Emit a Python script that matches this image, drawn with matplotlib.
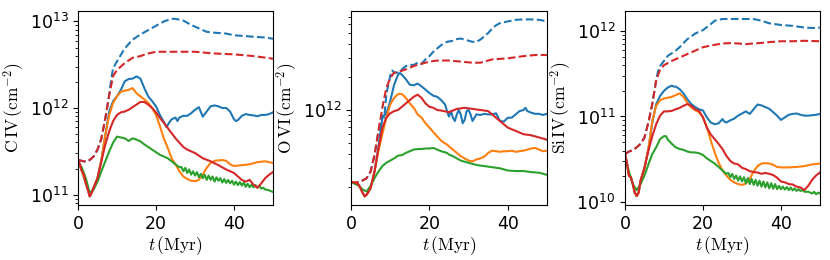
import matplotlib
matplotlib.use("Agg")
import matplotlib.pyplot as plt
import numpy as np
from matplotlib.ticker import NullFormatter

# ---------------- data (log10 of column density, cm^-2) ----------------
# Panel 1: C IV
civ_rd_t = [0, 2, 3, 4, 5, 6, 7, 8, 9, 10, 12, 14, 16, 18, 20, 22, 25, 30, 35, 40, 45, 50]
civ_rd = [11.40, 11.38, 11.40, 11.44, 11.52, 11.65, 11.88, 12.15, 12.37, 12.44, 12.52, 12.58,
          12.60, 12.63, 12.65, 12.65, 12.65, 12.65, 12.63, 12.62, 12.60, 12.57]
civ_bd_t = [0, 2, 3, 4, 5, 6, 7, 8, 8.5, 9, 10, 12, 14, 16, 18, 20, 22, 24, 25, 27, 29, 31, 33,
            35, 38, 40, 43, 46, 48, 50]
civ_bd = [11.40, 11.38, 11.40, 11.44, 11.52, 11.65, 11.88, 12.15, 12.33, 12.46, 12.54, 12.69,
          12.79, 12.85, 12.90, 12.95, 13.00, 13.03, 13.03, 13.01, 12.96, 12.92, 12.88, 12.87,
          12.86, 12.84, 12.83, 12.82, 12.815, 12.80]
civ_b_t = [0, 1, 2, 2.5, 3, 3.5, 4, 5, 6, 7, 8, 9, 10, 11, 12, 13, 14, 15, 16, 17, 18, 19, 20,
           21, 22, 22.7, 23.5, 24, 25, 25.5, 26, 27, 28, 29, 30, 31, 32, 33, 34, 35, 36, 37, 38,
           39, 40, 40.5, 41, 42, 43, 44, 45, 46, 47, 48, 49, 50]
civ_b = [11.40, 11.27, 11.13, 11.06, 10.98, 11.02, 11.08, 11.19, 11.40, 11.68, 11.96, 12.08,
         12.135, 12.21, 12.31, 12.335, 12.34, 12.365, 12.34, 12.23, 12.135, 12.08, 12.02, 11.92,
         11.84, 11.78, 11.84, 11.87, 11.89, 11.85, 11.89, 11.91, 11.91, 11.94, 11.98, 12.01,
         11.90, 11.96, 12.02, 12.03, 12.02, 12.00, 12.00, 11.96, 11.87, 11.85, 11.86, 11.91,
         11.93, 11.92, 11.915, 11.905, 11.92, 11.92, 11.93, 11.95]
civ_o_t = [0, 1, 2, 2.5, 3, 3.5, 4, 5, 6, 7, 8, 9, 10, 11, 12, 13, 14, 15, 16, 17, 18, 19, 20,
           21, 22, 23, 24, 25, 26, 27, 28, 29, 30, 31, 32, 33, 34, 35, 37, 38, 39, 40, 42, 44,
           46, 48, 50]
civ_o = [11.40, 11.27, 11.13, 11.06, 10.98, 11.02, 11.08, 11.19, 11.40, 11.69, 11.92, 12.06,
         12.135, 12.19, 12.20, 12.21, 12.23, 12.17, 12.135, 12.10, 12.06, 12.00, 11.92, 11.79,
         11.65, 11.54, 11.42, 11.35, 11.27, 11.21, 11.18, 11.16, 11.155, 11.17, 11.23, 11.31,
         11.365, 11.39, 11.40, 11.39, 11.35, 11.33, 11.34, 11.35, 11.375, 11.385, 11.365]
civ_r_t = [0, 0.5, 1, 1.5, 2, 2.5, 3, 3.5, 4, 5, 6, 7, 8, 9, 10, 11, 12, 13, 14, 15, 16, 17,
           18, 19, 20, 21, 22, 23, 24, 25, 26, 27, 28, 30, 32, 34, 36, 38, 40, 42, 43, 44, 45,
           46, 47, 48, 49, 50]
civ_r = [11.40, 11.35, 11.27, 11.23, 11.13, 11.06, 10.98, 11.02, 11.08, 11.19, 11.385, 11.58,
         11.73, 11.85, 11.92, 11.95, 11.96, 11.98, 12.01, 12.04, 12.07, 12.07, 12.04, 12.00,
         11.95, 11.885, 11.83, 11.77, 11.71, 11.65, 11.60, 11.55, 11.52, 11.48, 11.42, 11.385,
         11.34, 11.29, 11.25, 11.17, 11.15, 11.17, 11.115, 11.08, 11.13, 11.19, 11.23, 11.26]
civ_g_t = [0, 1, 2, 3, 4, 5, 6, 7, 8, 9, 10, 11, 12, 13, 14, 15, 16, 17, 18, 19, 20, 21, 22,
           23, 24, 25, 26, 26.5, 27, 27.5, 28, 28.5, 29, 29.5, 30, 30.5, 31, 31.5, 32, 32.5, 33,
           33.5, 34, 34.5, 35, 35.5, 36, 36.5, 37, 37.5, 38, 38.5, 39, 39.5, 40, 40.5, 41, 41.5,
           42, 42.5, 43, 43.5, 44, 44.5, 45, 45.5, 46, 46.5, 47, 47.5, 48, 49, 50]
civ_g = [11.385, 11.31, 11.19, 11.02, 11.06, 11.15, 11.27, 11.385, 11.50, 11.60, 11.67, 11.66,
         11.65, 11.62, 11.65, 11.635, 11.615, 11.58, 11.55, 11.52, 11.49, 11.46, 11.44, 11.42,
         11.385, 11.35, 11.315, 11.32, 11.27, 11.31, 11.25, 11.29, 11.23, 11.27, 11.22, 11.26,
         11.20, 11.24, 11.19, 11.23, 11.17, 11.22, 11.17, 11.21, 11.15, 11.20, 11.16, 11.19,
         11.14, 11.18, 11.135, 11.17, 11.13, 11.16, 11.115, 11.15, 11.11, 11.145, 11.105, 11.14,
         11.09, 11.125, 11.085, 11.115, 11.085, 11.11, 11.08, 11.10, 11.07, 11.08, 11.06, 11.05,
         11.03]

# Panel 2: O VI
ovi_rd_t = [0, 1, 2, 3, 4, 5, 6, 7, 8, 9, 10, 11, 12, 14, 16, 18, 20, 22, 25, 28, 31, 33, 36,
            40, 44, 47, 50]
ovi_rd = [11.345, 11.34, 11.345, 11.36, 11.38, 11.44, 11.59, 11.81, 12.02, 12.20, 12.29, 12.34,
          12.345, 12.37, 12.40, 12.42, 12.44, 12.45, 12.45, 12.44, 12.43, 12.43, 12.46, 12.47,
          12.49, 12.50, 12.50]
ovi_bd_t = [0, 1, 2, 3, 4, 5, 6, 7, 7.5, 8, 8.5, 9, 10, 10.5, 11, 12, 13, 14, 15, 16, 17, 18,
            19, 20, 21, 22, 23, 24.5, 26, 27, 28, 29, 30, 31, 32, 33, 34, 35, 36, 37, 38, 40,
            42, 44, 46, 48, 50]
ovi_bd = [11.345, 11.34, 11.345, 11.36, 11.38, 11.44, 11.59, 11.80, 11.90, 11.95, 11.93, 12.14,
          12.31, 12.36, 12.34, 12.34, 12.37, 12.40, 12.41, 12.41, 12.43, 12.42, 12.46, 12.49,
          12.53, 12.56, 12.59, 12.62, 12.63, 12.645, 12.65, 12.64, 12.63, 12.62, 12.62, 12.64,
          12.67, 12.70, 12.74, 12.77, 12.79, 12.806, 12.82, 12.824, 12.824, 12.82, 12.806]
ovi_b_t = [0, 1, 2, 3, 3.5, 4, 5, 6, 7, 8, 8.5, 9, 10, 11, 12, 12.5, 13, 14, 15, 16, 17, 18,
           19, 20, 21, 22, 23, 24, 24.5, 25, 25.5, 26, 26.5, 27, 27.5, 28, 28.5, 29, 29.5, 30,
           30.5, 31, 32, 33, 34, 35, 36, 37, 38, 39, 40, 41, 42, 43, 44, 44.5, 45, 46, 47, 48,
           49, 50]
ovi_b = [11.345, 11.33, 11.32, 11.245, 11.215, 11.23, 11.29, 11.44, 11.66, 11.93, 11.955, 11.96,
         12.08, 12.23, 12.32, 12.336, 12.32, 12.28, 12.23, 12.225, 12.24, 12.215, 12.185, 12.155,
         12.13, 12.12, 12.09, 12.05, 11.99, 11.94, 11.99, 11.93, 11.90, 11.96, 12.00, 11.96,
         11.88, 11.91, 11.99, 12.00, 11.96, 11.90, 11.96, 11.955, 11.965, 11.96, 11.96, 11.97,
         11.90, 11.895, 11.93, 11.93, 11.96, 11.99, 12.00, 12.02, 11.99, 11.975, 11.965, 11.965,
         11.955, 11.965]
ovi_r_t = [0, 1, 2, 3, 3.5, 4, 5, 6, 7, 8, 9, 10, 11, 12, 13, 14, 15, 16, 17, 18, 19, 20, 21,
           22, 23, 25, 27, 29, 31, 33, 35, 36, 37, 38, 39, 40, 42, 44, 46, 48, 50]
ovi_r = [11.345, 11.34, 11.32, 11.245, 11.215, 11.23, 11.29, 11.44, 11.65, 11.84, 11.93, 11.97,
         11.99, 12.00, 12.03, 12.06, 12.09, 12.12, 12.14, 12.11, 12.06, 12.03, 12.02, 12.00,
         11.995, 11.98, 12.01, 12.02, 12.01, 12.00, 11.99, 11.96, 11.93, 11.90, 11.87, 11.84,
         11.81, 11.78, 11.77, 11.75, 11.73]
ovi_o_t = [0, 1, 2, 3, 3.5, 4, 5, 6, 7, 8, 9, 10, 11, 12, 13, 14, 15, 16, 17, 18, 19, 20, 21,
           22, 23, 24.5, 25, 26, 27, 28, 29, 30, 31, 32, 33, 34, 35, 36, 37, 38, 39, 40, 41, 42,
           43, 44, 45, 46, 47, 48, 49, 50]
ovi_o = [11.345, 11.34, 11.32, 11.245, 11.215, 11.23, 11.29, 11.44, 11.63, 11.78, 11.93, 12.05,
         12.11, 12.145, 12.145, 12.11, 12.06, 12.02, 11.96, 11.93, 11.88, 11.84, 11.80, 11.76,
         11.72, 11.685, 11.67, 11.64, 11.61, 11.58, 11.56, 11.54, 11.533, 11.55, 11.56, 11.575,
         11.61, 11.63, 11.625, 11.62, 11.625, 11.625, 11.63, 11.62, 11.625, 11.63, 11.64, 11.65,
         11.655, 11.64, 11.625, 11.63]
ovi_g_t = [0, 1, 2, 3, 4, 5, 6, 7, 8, 9, 10, 11, 12, 13, 14, 15, 16, 17, 18, 19, 20, 21, 22,
           23, 24.5, 25, 26, 27, 28, 29, 30, 31, 32, 34, 36, 38, 40, 42, 44, 46, 48, 50]
ovi_g = [11.345, 11.33, 11.31, 11.275, 11.26, 11.31, 11.38, 11.44, 11.49, 11.52, 11.54, 11.56,
         11.585, 11.59, 11.61, 11.625, 11.64, 11.645, 11.645, 11.65, 11.65, 11.655, 11.64, 11.625,
         11.61, 11.595, 11.58, 11.56, 11.54, 11.53, 11.52, 11.51, 11.50, 11.49, 11.48, 11.47,
         11.45, 11.445, 11.445, 11.435, 11.43, 11.41]

# Panel 3: Si IV
siiv_rd_t = [0, 1, 2, 3, 4, 5, 6, 7, 8, 9, 10, 12, 14, 16, 18, 20, 22, 24, 25, 27, 29, 31, 33,
             35, 37, 40, 43, 46, 50]
siiv_rd = [10.56, 10.59, 10.605, 10.64, 10.68, 10.755, 10.93, 11.145, 11.42, 11.55, 11.60, 11.65,
           11.69, 11.73, 11.77, 11.81, 11.83, 11.846, 11.854, 11.858, 11.854, 11.846, 11.854,
           11.86, 11.87, 11.88, 11.88, 11.885, 11.88]
siiv_bd_t = [0, 1, 2, 3, 4, 5, 6, 7, 8, 8.5, 9, 10, 11, 12, 13, 14, 16, 18, 20, 22, 23, 24, 25,
             28, 31, 33, 35, 37, 40, 43, 46, 48, 50]
siiv_bd = [10.56, 10.59, 10.605, 10.64, 10.68, 10.755, 10.93, 11.145, 11.43, 11.53, 11.59, 11.65,
           11.71, 11.74, 11.77, 11.81, 11.905, 11.97, 12.01, 12.08, 12.12, 12.13, 12.14, 12.14,
           12.14, 12.14, 12.12, 12.09, 12.07, 12.06, 12.04, 12.035, 12.04]
siiv_b_t = [0, 0.5, 1, 1.5, 2, 2.5, 3, 3.5, 4, 5, 6, 7, 8, 9, 10, 11, 12, 12.5, 13, 14, 15, 16,
            17, 18, 19, 20, 21, 22, 23, 24, 25, 25.5, 26, 27, 28, 29, 30, 31, 32, 33, 34, 35, 36,
            37, 38, 39, 40, 41, 42, 43, 44, 45, 46, 47, 48, 49, 50]
siiv_b = [10.56, 10.46, 10.31, 10.29, 10.21, 10.11, 10.07, 10.11, 10.25, 10.40, 10.62, 10.93,
          11.145, 11.24, 11.30, 11.34, 11.36, 11.35, 11.35, 11.32, 11.27, 11.20, 11.145, 11.11,
          11.085, 11.07, 10.99, 10.93, 10.91, 10.92, 10.97, 10.94, 10.93, 10.955, 10.975, 11.01,
          11.035, 11.06, 11.03, 11.085, 11.14, 11.13, 11.11, 11.09, 11.05, 11.01, 10.96, 10.99,
          11.02, 11.03, 11.035, 11.02, 11.01, 11.01, 11.015, 11.02, 11.03]
siiv_r_t = [0, 0.5, 1, 1.5, 2, 2.5, 3, 3.5, 4, 5, 6, 7, 8, 9, 10, 11, 12, 13, 14, 15, 16, 17,
            18, 19, 20, 21, 22, 23, 24, 25, 26, 27, 28, 29, 30, 31, 32, 33, 34, 35, 36, 37, 38,
            39, 40, 41, 42, 43, 44, 45, 46, 47, 48, 49, 50]
siiv_r = [10.56, 10.46, 10.31, 10.29, 10.21, 10.11, 10.07, 10.11, 10.25, 10.40, 10.60, 10.77,
          10.91, 11.01, 11.06, 11.06, 11.066, 11.085, 11.10, 11.125, 11.145, 11.125, 11.085,
          11.066, 10.99, 10.87, 10.79, 10.735, 10.68, 10.62, 10.54, 10.48, 10.45, 10.44, 10.40,
          10.385, 10.36, 10.35, 10.345, 10.33, 10.34, 10.33, 10.315, 10.285, 10.24, 10.23, 10.21,
          10.205, 10.18, 10.17, 10.14, 10.19, 10.26, 10.31, 10.345]
siiv_o_t = [0, 0.5, 1, 1.5, 2, 2.5, 3, 3.5, 4, 5, 6, 7, 8, 9, 10, 11, 12, 13, 14, 15, 16, 17,
            18, 19, 20, 21, 22, 23, 24, 25, 26, 27, 28, 29, 30, 31, 32, 33, 34, 35, 36, 37, 38,
            39, 40, 42, 44, 46, 48, 50]
siiv_o = [10.56, 10.46, 10.31, 10.29, 10.21, 10.11, 10.07, 10.11, 10.25, 10.40, 10.62, 10.95,
          11.125, 11.19, 11.21, 11.22, 11.23, 11.25, 11.27, 11.23, 11.16, 11.105, 11.074, 11.05,
          10.99, 10.87, 10.72, 10.58, 10.46, 10.37, 10.31, 10.26, 10.23, 10.21, 10.20, 10.215,
          10.27, 10.36, 10.42, 10.45, 10.455, 10.45, 10.435, 10.41, 10.405, 10.405, 10.41, 10.42,
          10.44, 10.45]
siiv_g_t = [0, 1, 2, 3, 4, 5, 6, 7, 8, 9, 10, 10.5, 11, 12, 13, 14, 15, 16, 17, 18, 19, 20, 21,
            22, 23, 24, 25, 26, 26.5, 27, 27.5, 28, 28.5, 29, 29.5, 30, 30.5, 31, 31.5, 32, 32.5,
            33, 33.5, 34, 34.5, 35, 35.5, 36, 36.5, 37, 37.5, 38, 38.5, 39, 39.5, 40, 40.5, 41,
            41.5, 42, 42.5, 43, 43.5, 44, 44.5, 45, 45.5, 46, 47, 48, 48.5, 49, 49.5, 50]
siiv_g = [10.52, 10.36, 10.21, 10.14, 10.21, 10.31, 10.44, 10.56, 10.64, 10.735, 10.77, 10.77,
          10.73, 10.68, 10.64, 10.62, 10.61, 10.59, 10.58, 10.58, 10.57, 10.55, 10.51, 10.48,
          10.45, 10.41, 10.37, 10.33, 10.34, 10.29, 10.33, 10.27, 10.31, 10.25, 10.30, 10.24,
          10.29, 10.22, 10.28, 10.21, 10.27, 10.20, 10.26, 10.19, 10.25, 10.18, 10.24, 10.17,
          10.23, 10.16, 10.22, 10.155, 10.21, 10.15, 10.19, 10.15, 10.18, 10.145, 10.175, 10.14,
          10.17, 10.135, 10.16, 10.13, 10.15, 10.13, 10.14, 10.12, 10.12, 10.10, 10.12, 10.09,
          10.11, 10.10]

ion_labels = [r"$\mathrm{C\,IV}\,(\mathrm{cm^{-2}})$",
              r"$\mathrm{O\,VI}\,(\mathrm{cm^{-2}})$",
              r"$\mathrm{Si\,IV}\,(\mathrm{cm^{-2}})$"]
xlabel = r"$t\,(\mathrm{Myr})$"
xticks = [0, 20, 40]

panels = [
    [(civ_bd_t, civ_bd, "C0", "--"), (civ_rd_t, civ_rd, "C3", "--"),
     (civ_b_t, civ_b, "C0", "-"), (civ_o_t, civ_o, "C1", "-"),
     (civ_g_t, civ_g, "C2", "-"), (civ_r_t, civ_r, "C3", "-")],
    [(ovi_bd_t, ovi_bd, "C0", "--"), (ovi_rd_t, ovi_rd, "C3", "--"),
     (ovi_b_t, ovi_b, "C0", "-"), (ovi_o_t, ovi_o, "C1", "-"),
     (ovi_g_t, ovi_g, "C2", "-"), (ovi_r_t, ovi_r, "C3", "-")],
    [(siiv_bd_t, siiv_bd, "C0", "--"), (siiv_rd_t, siiv_rd, "C3", "--"),
     (siiv_b_t, siiv_b, "C0", "-"), (siiv_o_t, siiv_o, "C1", "-"),
     (siiv_g_t, siiv_g, "C2", "-"), (siiv_r_t, siiv_r, "C3", "-")],
]
ylims_log = [(10.880, 13.124), (11.136, 12.903), (9.965, 12.237)]

fig = plt.figure(figsize=(8.3, 2.6), dpi=100)
lefts = [0.0940, 0.4229, 0.7530]
widths = [0.2349, 0.2361, 0.2349]
for i in range(3):
    ax = fig.add_axes([lefts[i], 0.2115, widths[i], 0.7473])
    for t, v, c, ls in panels[i]:
        ax.plot(t, 10 ** np.asarray(v), color=c, ls=ls, lw=1.5)
    ax.set_yscale("log")
    ax.set_xlim(0, 50)
    ax.set_ylim(10 ** ylims_log[i][0], 10 ** ylims_log[i][1])
    ax.set_xticks(xticks)
    ax.yaxis.set_minor_formatter(NullFormatter())
    ax.tick_params(labelsize=12.5)
    ax.set_ylabel(ion_labels[i], fontsize=12.5, math_fontfamily="cm", labelpad=2)
    ax.set_xlabel(xlabel, fontsize=12.5, math_fontfamily="cm", labelpad=1)

fig.savefig("out.png", dpi=100)
